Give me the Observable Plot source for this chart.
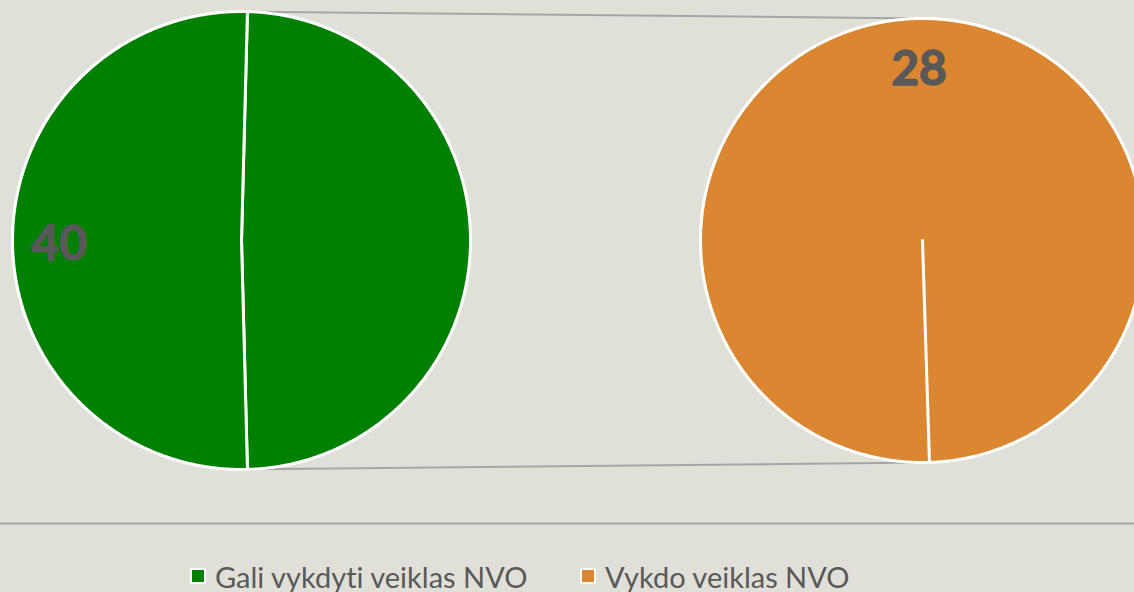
<!DOCTYPE html>
<html><head><meta charset="utf-8">
<script src="https://cdn.jsdelivr.net/npm/d3@7"></script>
<script src="https://cdn.jsdelivr.net/npm/@observablehq/plot@0.6"></script>
<style>
html,body{margin:0;padding:0;background:#e0e0d9;overflow:hidden;width:1134px;height:592px}
#chart svg{display:block}
#chart text{font-variant-ligatures:none}
#legend{height:32px;position:relative;font-family:Lato,"Open Sans",sans-serif;font-size:29px;color:#595959;font-variant-ligatures:none;font-feature-settings:"liga" 0}
.item{position:absolute;top:0;display:flex;align-items:center;height:32px;white-space:nowrap}
.sw{width:12px;height:12px;border:2px solid #fff;margin-right:9px;box-sizing:content-box}
</style></head>
<body><div id="chart"></div><div id="legend"></div>
<script>
// ---- data ----
const legendCategories = ["Gali vykdyti veiklas NVO", "Vykdo veiklas NVO"];
const legendColors = ["#008000", "#db8731"];
// main pie: first slice + "other" slice (which is expanded into the second pie)
const mainPieCategories = ["Gali vykdyti veiklas NVO", "Kita"];
const mainPieValues = [40, 38.7];
const mainPieLabels = ["40", ""];
// second pie
const secondPieCategories = ["Vykdo veiklas NVO"];
const secondPieValues = [28];
const secondPieLabels = ["28"];

// ---- layout ----
const W = 1134, H = 560;
const L = {cx: 241, cy: 240, r: 229};
const R = {cx: 922, cy: 240, r: 222};
const deg = Math.PI / 180;

function slicePoints(p, a0, a1) {
  const pts = [{x: p.cx, y: p.cy}];
  const n = Math.max(2, Math.ceil((a1 - a0) / (0.5 * deg)));
  for (let i = 0; i <= n; i++) {
    const a = a0 + (a1 - a0) * i / n;
    pts.push({x: p.cx + p.r * Math.sin(a), y: p.cy - p.r * Math.cos(a)});
  }
  return pts;
}

// main pie: "other" slice centred at 3 o'clock
const otherIdx = 1;
const total = d3.sum(mainPieValues);
const otherSpan = mainPieValues[otherIdx] / total * 2 * Math.PI;
const mainOrder = [otherIdx, 0];
const mainArcs = d3.pie().sort(null).value(i => mainPieValues[i])
  .startAngle(Math.PI / 2 - otherSpan / 2).endAngle(Math.PI / 2 - otherSpan / 2 + 2 * Math.PI)(mainOrder);
const secondStart = 178.2 * deg;
const secondArcs = d3.pie().sort(null).startAngle(secondStart).endAngle(secondStart + 2 * Math.PI)(secondPieValues);

const slices = [];
mainArcs.forEach(a => slices.push({pts: slicePoints(L, a.startAngle, a.endAngle), fill: legendColors[0],
  label: mainPieLabels[a.data], mid: (a.startAngle + a.endAngle) / 2, p: L, k: 0.805}));
secondArcs.forEach((a, i) => slices.push({pts: slicePoints(R, a.startAngle, a.endAngle), fill: legendColors[1],
  label: secondPieLabels[i], mid: (a.startAngle + a.endAngle) / 2, p: R, k: 0.79}));

const otherArc = mainArcs.find(a => a.data === otherIdx);
const pt = (p, a) => ({x: p.cx + p.r * Math.sin(a), y: p.cy - p.r * Math.cos(a)});
const s0 = pt(L, otherArc.startAngle), s1 = pt(L, otherArc.endAngle);
const connectors = [
  {x1: s0.x, y1: s0.y, x2: R.cx, y2: R.cy - R.r},
  {x1: s1.x, y1: s1.y, x2: R.cx, y2: R.cy + R.r}
];
const labels = slices.filter(s => s.label).map(s => ({
  x: s.p.cx + s.k * s.p.r * Math.sin(s.mid) + 2, y: s.p.cy - s.k * s.p.r * Math.cos(s.mid) + 4, text: s.label}));

const marks = [
  Plot.ruleY([523], {stroke: "#a3a3a3", strokeWidth: 2}),
  Plot.link(connectors, {x1: "x1", y1: "y1", x2: "x2", y2: "y2", stroke: "#a6a6a6", strokeWidth: 2})
];
slices.forEach(s => marks.push(Plot.line(s.pts, {x: "x", y: "y", curve: "linear-closed", fill: s.fill,
  stroke: "#ffffff", strokeWidth: 3, strokeLinejoin: "round"})));
marks.push(Plot.text(labels, {x: "x", y: "y", text: "text", fontSize: 48, fontWeight: 700,
  fontFamily: "Lato", fill: "#595959", stroke: "#595959", strokeWidth: 1.3}));

const chart = Plot.plot({
  width: W, height: H, margin: 0,
  style: {background: "transparent", overflow: "hidden"},
  x: {domain: [0, W], range: [0, W], axis: null},
  y: {domain: [0, H], range: [0, H], axis: null},
  marks
});
document.getElementById("chart").appendChild(chart);

const lg = document.getElementById("legend");
const lefts = [190, 580];
legendCategories.forEach((c, i) => {
  const it = document.createElement("div");
  it.className = "item"; it.style.left = lefts[i] + "px";
  it.innerHTML = `<span class="sw" style="background:${legendColors[i]}"></span><span>${c}</span>`;
  lg.appendChild(it);
});
</script>
</body></html>
